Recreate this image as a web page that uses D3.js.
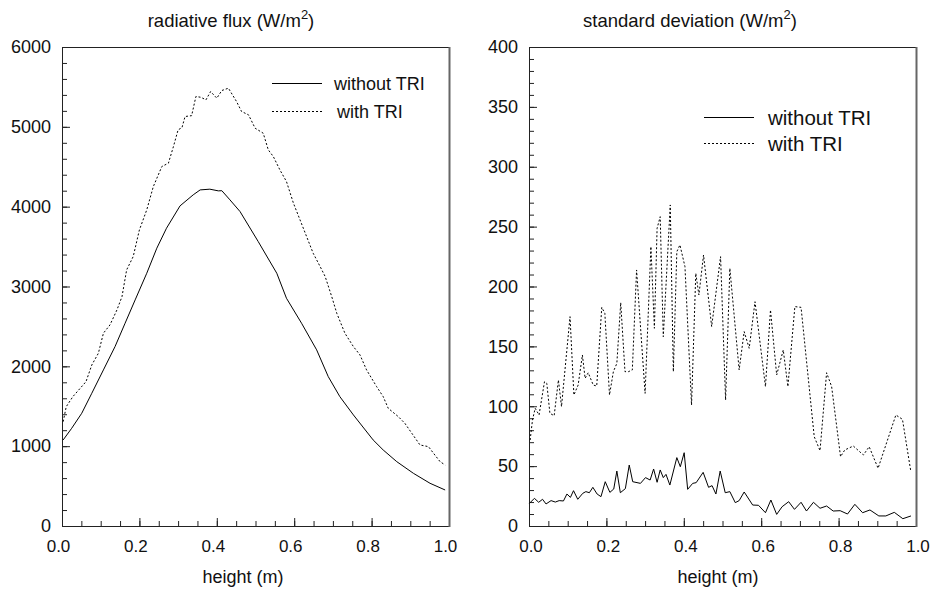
<!DOCTYPE html>
<html>
<head>
<meta charset="utf-8">
<script src="https://cdn.jsdelivr.net/npm/d3@7"></script>
<style>
  body { margin: 0; background: #fff; }
  svg { display: block; font-family: "Liberation Sans", Arial, sans-serif; }
  .tick text { font-size: 18px; fill: #111; }
  .xaxis .tick text { font-size: 17px; }
  .tick line { stroke: #222; }
</style>
</head>
<body>
<svg id="chart" width="932" height="590"></svg>
<script>

// radiative flux, left panel
var fluxHeightNo = [0.003, 0.025, 0.051, 0.077, 0.107, 0.137, 0.163, 0.189, 0.219, 0.245, 0.27, 0.305, 0.339, 0.357, 0.382, 0.404, 0.413, 0.434, 0.46, 0.507, 0.555, 0.58, 0.619, 0.658, 0.688, 0.718, 0.753, 0.804, 0.83, 0.865, 0.908, 0.951, 0.99];
var fluxWithout  = [1078, 1224, 1412, 1663, 1955, 2247, 2540, 2832, 3166, 3480, 3730, 4010, 4148, 4210, 4219, 4198, 4200, 4085, 3939, 3563, 3166, 2853, 2540, 2206, 1871, 1620, 1391, 1078, 952, 806, 660, 535, 451];

var fluxHeightTri = [0.003, 0.011, 0.028, 0.062, 0.077, 0.094, 0.107, 0.124, 0.142, 0.155, 0.167, 0.184, 0.2, 0.219, 0.236, 0.258, 0.275, 0.288, 0.3, 0.31, 0.318, 0.335, 0.346, 0.359, 0.372, 0.384, 0.4, 0.413, 0.43, 0.451, 0.464, 0.482, 0.499, 0.52, 0.533, 0.546, 0.563, 0.58, 0.598, 0.615, 0.632, 0.649, 0.667, 0.68, 0.697, 0.71, 0.731, 0.753, 0.77, 0.787, 0.813, 0.83, 0.843, 0.869, 0.886, 0.904, 0.925, 0.947, 0.96, 0.977, 0.99];
var fluxWith      = [1307, 1495, 1620, 1808, 2017, 2164, 2415, 2519, 2707, 2873, 3208, 3375, 3709, 3960, 4252, 4503, 4545, 4754, 4962, 4990, 5129, 5140, 5380, 5370, 5338, 5442, 5359, 5455, 5484, 5317, 5192, 5150, 4983, 4920, 4712, 4628, 4461, 4315, 4044, 3835, 3626, 3417, 3250, 3125, 2873, 2665, 2415, 2247, 2143, 1955, 1746, 1620, 1474, 1370, 1286, 1161, 1015, 994, 911, 806, 764];

// standard deviation, right panel
var sdHeightNo = [0.001, 0.014, 0.025, 0.035, 0.044, 0.057, 0.068, 0.078, 0.089, 0.098, 0.107, 0.115, 0.126, 0.139, 0.147, 0.156, 0.165, 0.176, 0.186, 0.197, 0.209, 0.219, 0.227, 0.236, 0.249, 0.259, 0.268, 0.288, 0.301, 0.313, 0.322, 0.331, 0.339, 0.347, 0.354, 0.364, 0.382, 0.391, 0.401, 0.41, 0.423, 0.432, 0.45, 0.464, 0.473, 0.483, 0.494, 0.507, 0.519, 0.533, 0.543, 0.556, 0.578, 0.593, 0.611, 0.625, 0.64, 0.654, 0.671, 0.686, 0.703, 0.717, 0.735, 0.752, 0.769, 0.786, 0.804, 0.823, 0.842, 0.862, 0.881, 0.904, 0.922, 0.944, 0.966, 0.987];
var sdWithout  = [18.9, 23.1, 19.8, 22.3, 18.4, 21.2, 20.0, 21.2, 20.9, 26.7, 23.9, 29.5, 22.3, 27.3, 28.7, 27.8, 32.3, 26.7, 24.5, 37.0, 28.1, 30.9, 45.9, 27.8, 31.2, 50.9, 37.0, 35.6, 40.4, 38.4, 47.6, 36.5, 46.8, 40.4, 43.1, 34.2, 57.1, 49.5, 61.2, 30.6, 35.6, 36.2, 44.8, 32.3, 33.7, 26.7, 45.9, 27.8, 28.7, 19.5, 21.2, 28.4, 17.5, 17.3, 11.1, 21.7, 9.7, 16.1, 20.3, 13.9, 19.8, 12.5, 19.8, 14.8, 16.7, 12.5, 12.8, 10.0, 18.1, 11.1, 13.4, 8.4, 8.4, 11.4, 6.1, 8.4];

var sdHeightTri = [0.003, 0.009, 0.016, 0.026, 0.04, 0.046, 0.054, 0.065, 0.076, 0.084, 0.106, 0.116, 0.127, 0.138, 0.145, 0.153, 0.166, 0.175, 0.188, 0.196, 0.208, 0.218, 0.227, 0.237, 0.248, 0.257, 0.267, 0.278, 0.3, 0.315, 0.324, 0.331, 0.339, 0.347, 0.365, 0.373, 0.382, 0.39, 0.403, 0.42, 0.431, 0.439, 0.451, 0.472, 0.495, 0.508, 0.519, 0.543, 0.556, 0.569, 0.584, 0.611, 0.624, 0.64, 0.657, 0.669, 0.687, 0.703, 0.737, 0.752, 0.769, 0.782, 0.805, 0.816, 0.838, 0.864, 0.879, 0.902, 0.948, 0.965, 0.986];
var sdWith      = [71.8, 88.5, 98.3, 92.7, 120.5, 119.1, 94.1, 92.1, 121.9, 99.7, 174.8, 109.4, 117.7, 142.8, 123.3, 128.0, 117.7, 116.9, 182.6, 177.6, 109.4, 128.9, 135.8, 186.5, 128.9, 128.9, 130.3, 213.8, 110.8, 233.3, 165.1, 248.6, 258.3, 158.1, 268.1, 128.9, 229.1, 234.7, 216.6, 101.0, 211.0, 192.9, 226.3, 166.5, 224.9, 105.2, 215.2, 130.3, 162.3, 148.4, 187.3, 116.4, 180.4, 126.1, 147.0, 116.4, 183.2, 182.6, 74.6, 62.9, 128.0, 116.4, 57.9, 63.5, 66.8, 59.3, 66.2, 48.2, 92.7, 89.1, 46.8];

var xTicks = [0, 0.2, 0.4, 0.6, 0.8, 1.0];
var legendLabels = ["without TRI", "with TRI"];

var svg = d3.select("#chart");

function zip(xs, ys) {
    return xs.map(function(x, i) { return [x, ys[i]]; });
}

function drawPanel(p) {
    var x = d3.scaleLinear().domain([0, 1]).range([p.left, p.right]);
    var y = d3.scaleLinear().domain([0, p.ymax]).range([p.bottom, p.top]);
    var g = svg.append("g");

    // minor ticks first, inside the frame
    g.append("g")
        .attr("transform", "translate(0," + p.bottom + ")")
        .call(d3.axisBottom(x).tickValues(d3.range(0, 1.0001, 0.05)).tickSize(-5).tickFormat(""))
        .call(function(a) { a.select(".domain").remove(); });
    g.append("g")
        .attr("transform", "translate(" + p.left + ",0)")
        .call(d3.axisLeft(y).tickValues(d3.range(0, p.ymax + 0.1, p.minor)).tickSize(-5).tickFormat(""))
        .call(function(a) { a.select(".domain").remove(); });

    // major ticks + labels
    var xa = g.append("g")
        .attr("class", "xaxis")
        .attr("transform", "translate(0," + p.bottom + ")")
        .call(d3.axisBottom(x).tickValues(xTicks).tickSizeInner(-8).tickSizeOuter(0).tickPadding(14).tickFormat(d3.format(".1f")));
    xa.select(".domain").remove();
    xa.selectAll("text").attr("dx", p.xLabelShift).attr("font-family", null);

    var ya = g.append("g")
        .attr("transform", "translate(" + p.left + ",0)")
        .call(d3.axisLeft(y).tickValues(d3.range(0, p.ymax + 0.1, p.major)).tickSizeInner(-8).tickSizeOuter(0).tickPadding(11).tickFormat(d3.format("d")));
    ya.select(".domain").remove();
    ya.selectAll("text").attr("font-family", null);

    g.selectAll(".tick line").attr("stroke", "#222");
    g.selectAll("text").attr("font-size", null);

    // frame
    g.append("rect")
        .attr("x", p.left + 0.5).attr("y", p.top + 0.5)
        .attr("width", p.right - p.left).attr("height", p.bottom - p.top)
        .attr("fill", "none").attr("stroke", "#222").attr("stroke-width", 1);
    g.append("line")
        .attr("x1", p.right + 0.5).attr("x2", p.right + 0.5)
        .attr("y1", p.top).attr("y2", p.bottom + 1)
        .attr("stroke", "#666").attr("stroke-width", 2);

    var line = d3.line()
        .x(function(d) { return x(d[0]); })
        .y(function(d) { return y(d[1]); });

    g.append("path")
        .datum(zip(p.xsNo, p.ysNo))
        .attr("d", line)
        .attr("fill", "none").attr("stroke", "#000").attr("stroke-width", 1);
    g.append("path")
        .datum(zip(p.xsTri, p.ysTri))
        .attr("d", line)
        .attr("fill", "none").attr("stroke", "#000").attr("stroke-width", 1)
        .attr("stroke-dasharray", "2,2");

    // title with superscript
    var t = g.append("text")
        .attr("x", p.titleX).attr("y", 27)
        .attr("text-anchor", "middle")
        .attr("font-size", 18.5).attr("fill", "#111");
    t.append("tspan").text(p.title + " (W/m");
    t.append("tspan").attr("dy", -8).attr("font-size", 13).text("2");
    t.append("tspan").attr("dy", 8).text(")");

    g.append("text")
        .attr("x", p.xLabelX).attr("y", 583)
        .attr("text-anchor", "middle")
        .attr("font-size", 18).attr("fill", "#111")
        .text("height (m)");

    // legend
    var leg = g.append("g");
    legendLabels.forEach(function(lab, i) {
        var ly = p.legY[i];
        leg.append("line")
            .attr("x1", p.legX).attr("x2", p.legX + 50)
            .attr("y1", ly + 0.5).attr("y2", ly + 0.5)
            .attr("stroke", "#000").attr("stroke-width", 1)
            .attr("stroke-dasharray", i == 1 ? "2,2" : null);
        leg.append("text")
            .attr("x", p.legTextX[i]).attr("y", ly + p.legTextDy)
            .attr("font-size", p.legFont).attr("fill", "#111")
            .text(lab);
    });
}

drawPanel({
    left: 62, right: 449, top: 47, bottom: 526,
    ymax: 6000, major: 1000, minor: 200,
    xsNo: fluxHeightNo, ysNo: fluxWithout,
    xsTri: fluxHeightTri, ysTri: fluxWith,
    title: "radiative flux", titleX: 231, xLabelX: 243, xLabelShift: -4,
    legX: 272, legY: [83, 111], legTextX: [334, 337], legTextDy: 7, legFont: 18
});

drawPanel({
    left: 529, right: 916, top: 47, bottom: 526,
    ymax: 400, major: 50, minor: 10,
    xsNo: sdHeightNo, ysNo: sdWithout,
    xsTri: sdHeightTri, ysTri: sdWith,
    title: "standard deviation", titleX: 690, xLabelX: 718, xLabelShift: 1.5,
    legX: 704, legY: [117, 143], legTextX: [768, 768], legTextDy: 8, legFont: 20.5
});

</script>
</body>
</html>
